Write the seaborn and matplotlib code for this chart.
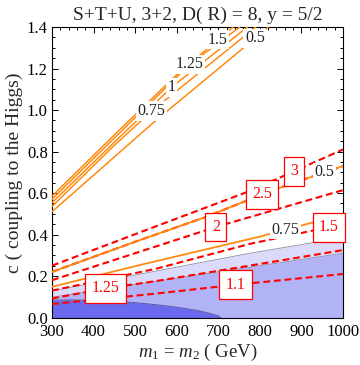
import numpy as np
import pandas as pd
import matplotlib
matplotlib.use("Agg")
import matplotlib.pyplot as plt
from matplotlib.ticker import MultipleLocator
import seaborn as sns

# region boundaries (m in GeV, c)
light_m = [300, 500, 776, 1000]
light_c = [0.128, 0.205, 0.31, 0.385]
medium_m = [300, 600, 1000]
medium_c = [0.098, 0.19, 0.31]
dark_m = [300, 350, 400, 450, 500, 550, 600, 650, 680, 700, 706]
dark_c = [0.084, 0.085, 0.083, 0.079, 0.072, 0.062, 0.05, 0.034, 0.02, 0.008, 0.0]

# steep orange contours
steep_levels = ['1.5', '1.25', '1', '0.75', '0.5']
steep_m = [[300, 450, 600, 735],
           [300, 450, 631, 752],
           [300, 450, 588, 770],
           [300, 450, 540, 790],
           [300, 550, 788, 820]]
steep_c = [[0.585, 0.88, 1.17, 1.4],
           [0.57, 0.865, 1.22, 1.4],
           [0.553, 0.845, 1.11, 1.4],
           [0.535, 0.83, 0.995, 1.4],
           [0.51, 0.95, 1.345, 1.4]]
steep_lab_m = [699, 631, 588, 540, 788]

# lower orange contours
orange_levels = ['0.5', '0.75']
orange_m = [[300, 511, 672, 831, 1000],
            [300, 511, 800, 1000]]
orange_c = [[0.22, 0.373, 0.486, 0.614, 0.73],
            [0.148, 0.253, 0.39, 0.497]]
orange_lab_m = [956, 862]

# red dashed contours
red_levels = ['3', '2.5', '2', '1.5', '1.25', '1.1']
red_m = [[300, 511, 776, 1000],
         [300, 511, 672, 831, 1000],
         [300, 500, 700, 1000],
         [300, 550, 776, 1000],
         [300, 428, 548, 709, 1000],
         [300, 548, 742, 1000]]
red_c = [[0.25, 0.41, 0.61, 0.81],
         [0.22, 0.373, 0.486, 0.614, 0.73],
         [0.18, 0.31, 0.44, 0.614],
         [0.13, 0.235, 0.355, 0.45],
         [0.092, 0.14, 0.175, 0.228, 0.325],
         [0.065, 0.115, 0.158, 0.21]]
red_lab_m = [882, 805, 694, 966, 428, 742]

sns.set_style("ticks")
plt.rcParams['font.family'] = ['Liberation Serif', 'DejaVu Serif']
plt.rcParams['mathtext.fontset'] = 'custom'
plt.rcParams['mathtext.rm'] = 'Liberation Serif'
plt.rcParams['mathtext.it'] = 'Liberation Serif:italic'

orange = '#ff8a10'
red = '#ff0000'

fig = plt.figure(figsize=(3.6, 3.65), dpi=100)
ax = fig.add_axes([0.1444, 0.130, 0.8084, 0.796])

# shaded regions
ax.fill_between(light_m, 0, light_c, color='#dadafa', lw=0, zorder=1)
ax.fill_between(medium_m, 0, medium_c, color='#b2b2f6', lw=0, zorder=1)
ax.fill_between(dark_m, 0, dark_c, color='#6a6aee', lw=0, zorder=1)
ax.plot(light_m, light_c, color='#8a8aa8', lw=0.6, zorder=2)
ax.plot(medium_m, medium_c, color='#8a8aa8', lw=0.6, zorder=2)
ax.plot(dark_m, dark_c, color='#5050a0', lw=0.6, zorder=2)

# red dashed lines
for lev, m, c in zip(red_levels, red_m, red_c):
    df = pd.DataFrame({'m': m, 'c': c})
    sns.lineplot(data=df, x='m', y='c', ax=ax, color=red, lw=1.5,
                 linestyle=(0, (3.3, 1.8)), zorder=3)

# orange lines
for lev, m, c in zip(orange_levels, orange_m, orange_c):
    df = pd.DataFrame({'m': m, 'c': c})
    sns.lineplot(data=df, x='m', y='c', ax=ax, color=orange, lw=1.3, zorder=4)
for lev, m, c in zip(steep_levels, steep_m, steep_c):
    df = pd.DataFrame({'m': m, 'c': c})
    sns.lineplot(data=df, x='m', y='c', ax=ax, color=orange, lw=1.1, zorder=4)

# contour labels
for lev, m, c, lm in zip(steep_levels, steep_m, steep_c, steep_lab_m):
    ax.text(lm, np.interp(lm, m, c), lev, fontsize=11.5, color='#222222',
            ha='center', va='center', zorder=6,
            bbox=dict(boxstyle='square,pad=0.1', fc='white', ec='none'))
for lev, m, c, lm in zip(orange_levels, orange_m, orange_c, orange_lab_m):
    ax.text(lm, np.interp(lm, m, c), lev, fontsize=11.5, color='#222222',
            ha='center', va='center', zorder=6,
            bbox=dict(boxstyle='square,pad=0.1', fc='white', ec='none'))
for lev, m, c, lm in zip(red_levels, red_m, red_c, red_lab_m):
    ax.text(lm, np.interp(lm, m, c), lev, fontsize=11.5, color=red,
            ha='center', va='center', zorder=6,
            bbox=dict(boxstyle='square,pad=0.4', fc='white', ec=red, lw=0.9))

ax.set_xlim(300, 1000)
ax.set_ylim(0, 1.4)
ax.xaxis.set_major_locator(MultipleLocator(100))
ax.xaxis.set_minor_locator(MultipleLocator(20))
ax.yaxis.set_major_locator(MultipleLocator(0.2))
ax.yaxis.set_minor_locator(MultipleLocator(0.05))
ax.yaxis.set_major_formatter(matplotlib.ticker.FormatStrFormatter('%.1f'))
ax.tick_params(which='both', direction='in', top=True, right=True,
               labelsize=12, colors='black', width=0.7)
ax.tick_params(axis='x', pad=5)
ax.tick_params(axis='y', pad=3)
ax.tick_params(which='major', length=4.5)
ax.tick_params(which='minor', length=2.5)
for s in ax.spines.values():
    s.set_linewidth(0.8)
    s.set_color('black')

ax.set_xlabel(r'$m_1$ = $m_2$ ( GeV)', fontsize=13.5, labelpad=1)
ax.set_ylabel('c ( coupling to the Higgs)', fontsize=14, labelpad=3)
ax.set_title('S+T+U, 3+2, D( R) = 8, y = 5/2', fontsize=14, pad=5)

fig.savefig('out.png', dpi=100)
